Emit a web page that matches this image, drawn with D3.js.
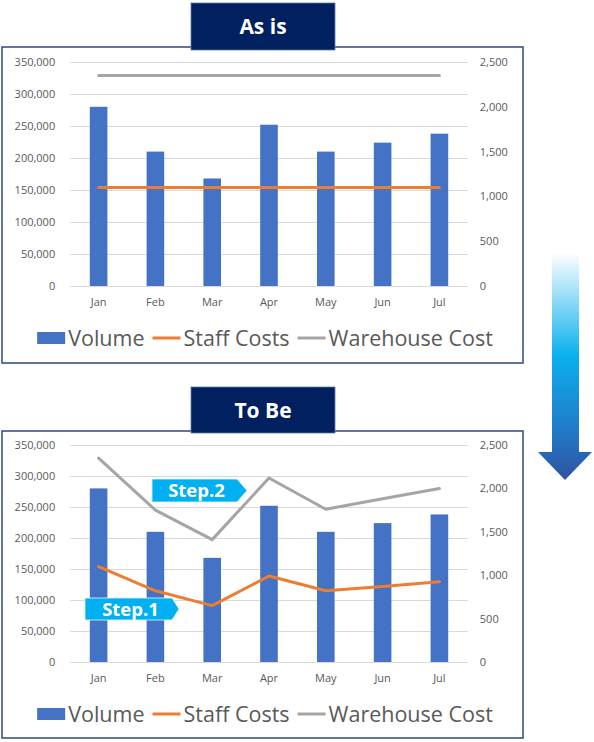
<!DOCTYPE html>
<html>
<head>
<meta charset="utf-8">
<script src="https://cdn.jsdelivr.net/npm/d3@7"></script>
<style>
  body { margin: 0; background: #fff; }
  svg { display: block; font-family: "Open Sans", sans-serif; }
</style>
</head>
<body>
<svg id="chart" width="594" height="742"></svg>
<script>
const months = ["Jan", "Feb", "Mar", "Apr", "May", "Jun", "Jul"];
const volume = [280000, 210000, 168000, 252000, 210000, 224000, 238000];
const leftTicks = [0, 50000, 100000, 150000, 200000, 250000, 300000, 350000];
const rightTicks = [0, 500, 1000, 1500, 2000, 2500];

const asIsStaff = [1100, 1100, 1100, 1100, 1100, 1100, 1100];
const asIsWarehouse = [2350, 2350, 2350, 2350, 2350, 2350, 2350];
const toBeStaff = [1100, 820, 650, 990, 820, 870, 925];
const toBeWarehouse = [2350, 1750, 1410, 2120, 1760, 1880, 2000];

const legendLabels = ["Volume", "Staff Costs", "Warehouse Cost"];

const svg = d3.select("#chart");
svg.append("rect").attr("width", 594).attr("height", 742).attr("fill", "#fff");

// arrow gradient
const defs = svg.append("defs");
const grad = defs.append("linearGradient")
  .attr("id", "arrowGrad")
  .attr("gradientUnits", "userSpaceOnUse")
  .attr("x1", 0).attr("y1", 253).attr("x2", 0).attr("y2", 480);
grad.append("stop").attr("offset", 0).attr("stop-color", "#ffffff");
grad.append("stop").attr("offset", 0.45).attr("stop-color", "#0bb0ee");
grad.append("stop").attr("offset", 0.8).attr("stop-color", "#2277c6");
grad.append("stop").attr("offset", 1).attr("stop-color", "#2f52a0");

svg.append("path")
  .attr("d", "M552,253 L579,253 L579,452 L592,452 L565,480 L538,452 L552,452 Z")
  .attr("fill", "url(#arrowGrad)");

function drawPanel(p) {
  const x = d3.scaleBand().domain(months).range([70.2, 467.8]).padding(0);
  const yL = d3.scaleLinear().domain([0, 350000]).range([p.bottom, p.top]);
  const yR = d3.scaleLinear().domain([0, 2500]).range([p.bottom, p.top]);
  const cx = (m) => x(m) + x.bandwidth() / 2;
  const barW = x.bandwidth() * 0.31;

  // frame
  svg.append("rect")
    .attr("x", 2).attr("y", p.boxY)
    .attr("width", 521).attr("height", p.boxH)
    .attr("fill", "none")
    .attr("stroke", "#3d5284")
    .attr("stroke-width", 1.6);

  // gridlines
  svg.append("g")
    .attr("transform", "translate(70.2,0)")
    .call(d3.axisLeft(yL).tickValues(leftTicks).tickSize(-397.6).tickFormat(""))
    .call(g => g.select(".domain").remove())
    .call(g => g.selectAll("line").attr("stroke", "#d9d9d9"));

  // left axis
  svg.append("g")
    .attr("transform", "translate(70.2,0)")
    .call(d3.axisLeft(yL).tickValues(leftTicks).tickSize(0).tickPadding(15).tickFormat(d3.format(",")))
    .call(g => g.select(".domain").remove())
    .call(g => g.selectAll("text").attr("fill", "#595959").style("font-size", "11px").style("font-family", "Open Sans"));

  // right axis
  svg.append("g")
    .attr("transform", "translate(467.8,0)")
    .call(d3.axisRight(yR).tickValues(rightTicks).tickSize(0).tickPadding(12).tickFormat(d3.format(",")))
    .call(g => g.select(".domain").remove())
    .call(g => g.selectAll("text").attr("fill", "#595959").style("font-size", "11px").style("font-family", "Open Sans"));

  // month axis
  svg.append("g")
    .attr("transform", `translate(0,${p.bottom})`)
    .call(d3.axisBottom(x).tickSize(0).tickPadding(12))
    .call(g => g.select(".domain").remove())
    .call(g => g.selectAll("text").attr("fill", "#595959").style("font-size", "11px").style("font-family", "Open Sans"));

  // bars
  svg.append("g").selectAll("rect")
    .data(months)
    .join("rect")
    .attr("x", (m) => cx(m) - barW / 2)
    .attr("y", (m, i) => yL(volume[i]))
    .attr("width", barW)
    .attr("height", (m, i) => p.bottom - yL(volume[i]))
    .attr("fill", "#4472c4");

  const line = d3.line().x((d) => cx(d.m)).y((d) => yR(d.v));
  const series = [
    { vals: p.warehouse, color: "#a5a5a5" },
    { vals: p.staff, color: "#ed7d31" }
  ];
  series.forEach((s) => {
    svg.append("path")
      .datum(months.map((m, i) => ({ m: m, v: s.vals[i] })))
      .attr("d", line)
      .attr("fill", "none")
      .attr("stroke", s.color)
      .attr("stroke-width", 3)
      .attr("stroke-linejoin", "round")
      .attr("stroke-linecap", "round");
  });

  // legend
  const lg = svg.append("g");
  let lx = 0;
  const items = [
    { label: legendLabels[0], kind: "rect", color: "#4472c4" },
    { label: legendLabels[1], kind: "line", color: "#ed7d31" },
    { label: legendLabels[2], kind: "line", color: "#a5a5a5" }
  ];
  items.forEach((it, i) => {
    if (it.kind === "rect") {
      lg.append("rect").attr("x", lx).attr("y", -6).attr("width", 28).attr("height", 12).attr("fill", it.color);
    } else {
      lg.append("line").attr("x1", lx).attr("x2", lx + 28).attr("y1", 0).attr("y2", 0)
        .attr("stroke", it.color).attr("stroke-width", 3);
    }
    lx += 31;
    const t = lg.append("text")
      .attr("x", lx).attr("y", 0).attr("dy", "0.35em")
      .attr("fill", "#595959")
      .style("font-size", "21.5px")
      .style("font-family", "Open Sans")
      .text(it.label);
    lx += t.node().getComputedTextLength() + (i < 2 ? 8 : 0);
  });
  lg.attr("transform", `translate(${265 - lx / 2},${p.legendY})`);

  // title tab
  svg.append("rect")
    .attr("x", 191).attr("y", p.titleY)
    .attr("width", 144).attr("height", p.titleH)
    .attr("fill", "#002060")
    .attr("stroke", "#5b78b0")
    .attr("stroke-width", 0.8);
  svg.append("text")
    .attr("x", 263).attr("y", p.titleY + p.titleH / 2)
    .attr("dy", "0.36em")
    .attr("text-anchor", "middle")
    .attr("fill", "#fff")
    .style("font-size", "21px")
    .style("font-weight", "bold")
    .style("font-family", "Open Sans")
    .text(p.title);

  // step callouts
  (p.steps || []).forEach((s) => {
    svg.append("path")
      .attr("d", `M${s.x0},${s.y0} L${s.x1},${s.y0} L${s.x2},${(s.y0 + s.y1) / 2} L${s.x1},${s.y1} L${s.x0},${s.y1} Z`)
      .attr("fill", "#00b0f0")
      .attr("stroke", "#e6f7fd")
      .attr("stroke-width", 0.8);
    svg.append("text")
      .attr("x", (s.x0 + s.x1) / 2 + 2).attr("y", (s.y0 + s.y1) / 2)
      .attr("dy", "0.36em")
      .attr("text-anchor", "middle")
      .attr("fill", "#fff")
      .style("font-size", "18.5px")
      .style("font-weight", "bold")
      .style("font-family", "Open Sans")
      .text(s.label);
  });
}

drawPanel({
  title: "As is", titleY: 3, titleH: 47,
  boxY: 47, boxH: 316,
  top: 62, bottom: 286, legendY: 338,
  staff: asIsStaff, warehouse: asIsWarehouse
});

drawPanel({
  title: "To Be", titleY: 387, titleH: 46,
  boxY: 431, boxH: 307,
  top: 445, bottom: 662, legendY: 714,
  staff: toBeStaff, warehouse: toBeWarehouse,
  steps: [
    { label: "Step.2", x0: 152, x1: 237, x2: 247, y0: 479, y1: 502 },
    { label: "Step.1", x0: 85, x1: 172, x2: 179, y0: 598, y1: 620 }
  ]
});
</script>
</body>
</html>
